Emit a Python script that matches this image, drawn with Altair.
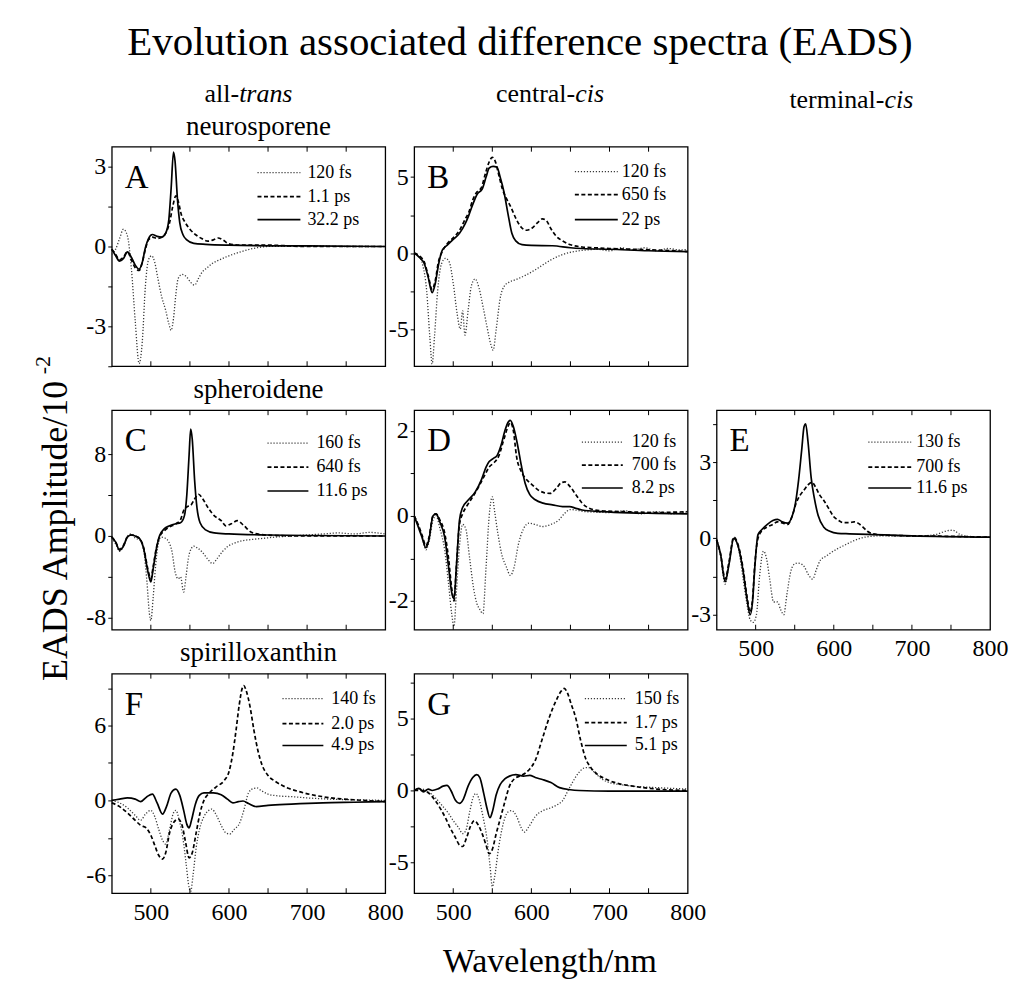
import altair as alt
import pandas as pd

SERIF = "Liberation Serif"
W, H = 274, 220

# ---------------- data: [wavelength nm, EADS amplitude /1e-2] ----------------
# A  neurosporene all-trans
A_120fs = [[450, -0.3], [455, -0.1], [460, 0.3], [465, 0.65], [470, 0.4], [475, -0.8], [480, -2.8], [485, -4.4],
           [489, -3.6], [493, -1.5], [497, -0.5], [501, -0.35], [505, -0.6], [509, -1.2], [514, -1.9], [519, -2.4],
           [523, -2.9], [526, -3.15], [529, -2.7], [532, -1.8], [535, -1.2], [540, -1.05], [546, -1.15], [551, -1.35],
           [556, -1.45], [561, -1.2], [566, -0.95], [572, -0.8], [578, -0.65], [588, -0.5], [600, -0.35], [615, -0.2],
           [630, -0.08], [650, 0.0], [700, 0.02], [750, 0.0], [800, 0.0]]
A_1p1ps = [[450, -0.1], [455, -0.3], [460, -0.5], [465, -0.4], [470, -0.2], [475, -0.5], [480, -0.8], [485, -0.9],
           [489, -0.6], [493, -0.1], [497, 0.25], [502, 0.35], [508, 0.3], [514, 0.35], [519, 0.5], [524, 0.9],
           [528, 1.5], [532, 1.9], [535, 1.7], [539, 1.2], [544, 0.9], [550, 0.65], [557, 0.45], [565, 0.3],
           [573, 0.2], [580, 0.25], [586, 0.32], [592, 0.25], [600, 0.1], [615, 0.05], [650, 0.05], [700, 0.0], [800, 0.0]]
A_32ps = [[450, -0.1], [455, -0.35], [460, -0.55], [465, -0.45], [470, -0.2], [475, -0.4], [480, -0.7], [485, -0.85],
          [489, -0.6], [493, -0.05], [497, 0.3], [502, 0.45], [508, 0.38], [514, 0.35], [519, 0.5], [523, 1.0],
          [526, 2.2], [529, 3.55], [531, 3.2], [534, 1.8], [537, 0.9], [541, 0.45], [546, 0.25], [555, 0.12],
          [570, 0.08], [600, 0.05], [700, 0.02], [800, 0.0]]

# B  neurosporene central-cis
B_120fs = [[450, 0.0], [456, -0.2], [461, -0.8], [466, -2.5], [470, -5.5], [473, -7.3], [476, -5.5], [480, -2.5],
           [485, -0.7], [490, -0.35], [495, -0.6], [500, -2.0], [505, -4.0], [509, -5.0], [512, -3.8], [515, -5.4],
           [519, -3.8], [523, -2.2], [528, -1.7], [533, -2.3], [538, -3.5], [543, -4.8], [548, -6.0], [551, -6.4],
           [555, -5.0], [560, -3.0], [565, -2.2], [572, -1.9], [580, -1.75], [593, -1.45], [605, -1.1], [614, -0.8],
           [625, -0.45], [640, -0.1], [655, 0.1], [670, 0.2], [685, 0.25], [700, 0.15], [715, 0.35], [730, 0.2],
           [745, 0.35], [760, 0.15], [775, 0.3], [790, 0.2], [800, 0.25]]
B_650fs = [[450, 0.0], [457, -0.2], [463, -0.6], [468, -1.5], [473, -2.4], [477, -1.8], [481, -0.6], [486, 0.1],
           [492, 0.6], [500, 1.0], [508, 1.5], [515, 2.2], [520, 2.7], [525, 3.5], [530, 4.0], [536, 4.3], [541, 5.2],
           [546, 6.0], [550, 6.3], [554, 6.0], [558, 5.2], [563, 4.2], [568, 3.6], [574, 3.0], [580, 2.3], [587, 1.7],
           [594, 1.5], [601, 1.65], [608, 2.0], [614, 2.25], [619, 2.15], [625, 1.6], [632, 1.1], [640, 0.8],
           [650, 0.55], [665, 0.4], [680, 0.35], [700, 0.3], [730, 0.25], [760, 0.2], [800, 0.1]]
B_22ps = [[450, 0.0], [457, -0.3], [463, -0.7], [468, -1.6], [473, -2.6], [477, -2.0], [481, -0.8], [486, 0.2],
          [492, 0.5], [500, 0.9], [508, 1.3], [515, 1.9], [520, 2.5], [525, 3.2], [531, 3.9], [537, 4.2], [542, 5.0],
          [546, 5.6], [551, 5.7], [556, 5.65], [560, 5.0], [565, 4.0], [570, 2.6], [575, 1.3], [580, 0.8], [588, 0.55],
          [600, 0.5], [627, 0.48], [650, 0.35], [665, 0.3], [700, 0.25], [750, 0.15], [800, 0.1]]

# C  spheroidene all-trans
C_160fs = [[450, -0.2], [455, -0.8], [460, -1.5], [465, -1.0], [470, 0.0], [475, 0.2], [480, -0.2], [486, -0.4],
           [491, -1.5], [495, -4.5], [498, -7.5], [500, -8.3], [503, -6.0], [506, -3.0], [509, -1.0], [513, -0.1],
           [518, -0.2], [523, -0.6], [527, -1.5], [531, -3.5], [535, -4.2], [538, -4.0], [542, -5.5], [545, -4.0],
           [548, -2.2], [552, -1.2], [555, -1.0], [560, -1.2], [566, -1.6], [572, -2.2], [579, -2.7], [585, -2.2],
           [592, -1.5], [599, -1.0], [607, -0.7], [615, -0.5], [628, -0.35], [641, -0.25], [660, -0.1], [680, 0.0],
           [700, 0.1], [720, 0.2], [740, 0.3], [760, 0.2], [780, 0.35], [800, 0.2]]
C_640fs = [[450, -0.1], [455, -0.6], [460, -1.3], [465, -0.9], [470, -0.1], [475, 0.1], [480, 0.0], [486, -0.3],
           [491, -1.2], [496, -3.2], [500, -4.2], [503, -3.0], [507, -1.2], [511, -0.1], [517, 0.5], [524, 0.9],
           [532, 1.2], [538, 1.6], [542, 2.5], [547, 2.9], [551, 3.0], [555, 3.5], [561, 4.1], [566, 3.7], [573, 2.8],
           [581, 2.0], [590, 1.5], [596, 1.0], [603, 1.2], [611, 1.5], [618, 1.1], [628, 0.4], [640, 0.15],
           [660, 0.05], [700, 0.0], [800, 0.0]]
C_11ps = [[450, -0.1], [455, -0.6], [460, -1.4], [465, -1.0], [470, -0.1], [475, 0.1], [480, 0.0], [486, -0.3],
          [491, -1.3], [496, -3.4], [500, -4.5], [503, -3.2], [507, -1.3], [511, 0.0], [517, 0.7], [524, 1.0],
          [532, 1.2], [538, 1.3], [543, 2.0], [546, 4.0], [549, 8.0], [551, 10.5], [553, 9.5], [556, 5.5],
          [559, 2.8], [563, 1.3], [570, 0.6], [581, 0.3], [600, 0.2], [650, 0.1], [700, 0.05], [800, 0.0]]

# D  spheroidene central-cis
D_120fs = [[450, 0.0], [455, -0.2], [460, -0.5], [465, -0.8], [469, -0.6], [474, -0.1], [478, 0.0], [483, -0.3],
           [489, -0.8], [494, -1.6], [498, -2.3], [501, -2.6], [504, -1.8], [508, -0.7], [512, -0.2], [516, -0.3],
           [521, -1.0], [526, -1.7], [530, -2.05], [534, -2.2], [538, -2.3], [542, -1.2], [546, 0.0], [550, 0.45],
           [553, 0.1], [557, -0.4], [562, -0.9], [568, -1.2], [573, -1.4], [578, -1.2], [583, -0.7], [590, -0.3],
           [597, -0.17], [605, -0.2], [614, -0.25], [625, -0.2], [635, -0.1], [642, 0.05], [650, 0.15], [670, 0.1],
           [700, 0.08], [720, 0.12], [740, 0.05], [760, 0.1], [780, 0.05], [800, 0.1]]
D_700fs = [[450, 0.0], [455, -0.2], [460, -0.45], [465, -0.7], [469, -0.5], [474, 0.0], [478, 0.05], [483, -0.1],
           [489, -0.4], [494, -1.0], [498, -1.7], [501, -2.0], [504, -1.2], [508, -0.2], [512, 0.05], [518, 0.25],
           [525, 0.45], [533, 0.7], [540, 0.95], [546, 1.15], [552, 1.25], [558, 1.4], [564, 1.75], [569, 2.05],
           [573, 2.2], [577, 2.0], [581, 1.4], [587, 1.05], [594, 0.85], [600, 0.75], [608, 0.62], [616, 0.55],
           [624, 0.53], [632, 0.65], [638, 0.78], [643, 0.8], [649, 0.7], [657, 0.5], [665, 0.3], [674, 0.18],
           [690, 0.12], [720, 0.1], [760, 0.08], [800, 0.1]]
D_8ps = [[450, 0.0], [455, -0.25], [460, -0.5], [465, -0.75], [469, -0.55], [474, 0.0], [478, 0.05], [483, -0.15],
         [489, -0.5], [494, -1.2], [498, -1.8], [501, -1.95], [504, -1.2], [508, -0.1], [512, 0.2], [518, 0.35],
         [528, 0.56], [536, 0.85], [542, 1.15], [546, 1.28], [551, 1.35], [556, 1.42], [561, 1.65], [566, 2.0],
         [570, 2.2], [573, 2.25], [577, 2.1], [582, 1.7], [587, 1.2], [592, 0.77], [598, 0.5], [605, 0.38],
         [615, 0.3], [627, 0.26], [640, 0.22], [649, 0.22], [657, 0.18], [665, 0.14], [690, 0.1], [725, 0.07],
         [760, 0.06], [800, 0.05]]

# E  spheroidene terminal-cis
E_130fs = [[450, -0.05], [455, -0.7], [461, -1.8], [466, -1.0], [472, 0.0], [478, -0.4], [484, -1.6], [489, -2.6],
           [493, -3.2], [497, -3.3], [501, -3.0], [505, -1.5], [510, -0.5], [514, -0.8], [518, -1.6], [523, -2.5],
           [528, -2.5], [532, -2.8], [536, -3.0], [540, -2.2], [545, -1.3], [550, -1.0], [554, -0.97], [558, -1.0],
           [562, -1.1], [567, -1.4], [573, -1.6], [578, -1.2], [583, -0.85], [590, -0.7], [597, -0.55], [605, -0.4],
           [615, -0.25], [625, -0.1], [640, 0.05], [660, 0.1], [700, 0.08], [730, 0.15], [745, 0.3], [752, 0.32],
           [762, 0.15], [780, 0.05], [800, 0.05]]
E_700fs = [[450, -0.05], [455, -0.6], [461, -1.6], [466, -0.9], [472, 0.05], [478, -0.3], [484, -1.2], [489, -2.3],
           [493, -2.9], [496, -2.4], [499, -1.0], [503, 0.0], [508, 0.3], [515, 0.45], [522, 0.55], [528, 0.65],
           [535, 0.6], [541, 0.55], [547, 0.9], [552, 1.4], [557, 1.7], [562, 1.9], [567, 2.1], [572, 2.2], [577, 2.0],
           [582, 1.7], [587, 1.5], [594, 1.15], [600, 0.85], [605, 0.73], [612, 0.62], [620, 0.62], [626, 0.65],
           [632, 0.58], [637, 0.45], [643, 0.28], [650, 0.18], [670, 0.12], [700, 0.1], [750, 0.08], [800, 0.05]]
E_11ps = [[450, -0.05], [455, -0.6], [461, -1.7], [466, -1.0], [472, 0.0], [478, -0.35], [484, -1.3], [489, -2.4],
          [493, -3.0], [496, -2.5], [499, -1.1], [503, 0.15], [508, 0.35], [515, 0.55], [522, 0.7], [528, 0.75],
          [534, 0.65], [541, 0.6], [547, 0.9], [551, 1.4], [555, 2.3], [559, 3.5], [562, 4.4], [564, 4.5], [567, 3.8],
          [571, 2.4], [575, 1.6], [580, 0.9], [587, 0.45], [595, 0.28], [605, 0.2], [620, 0.18], [650, 0.15],
          [700, 0.1], [800, 0.05]]

# F  spirilloxanthin all-trans
F_140fs = [[450, 0.0], [460, -0.2], [470, -0.6], [480, -1.2], [487, -1.6], [493, -1.1], [500, -0.8], [505, -1.3],
           [510, -2.3], [515, -3.2], [519, -3.5], [524, -2.3], [529, -1.0], [532, -0.8], [536, -1.5], [541, -3.0],
           [545, -5.0], [549, -7.0], [551, -7.3], [554, -6.0], [558, -3.8], [562, -2.4], [568, -1.3], [574, -0.8],
           [578, -0.7], [584, -1.2], [590, -2.0], [596, -2.6], [601, -2.7], [607, -2.3], [613, -1.9], [619, -0.8],
           [625, 0.6], [631, 0.95], [636, 1.0], [641, 0.8], [650, 0.5], [665, 0.35], [680, 0.3], [700, 0.2],
           [730, 0.1], [760, 0.05], [800, 0.0]]
F_2ps = [[450, -0.2], [460, -0.5], [470, -1.0], [480, -1.6], [487, -2.0], [494, -2.2], [500, -2.8], [505, -3.6],
         [510, -4.4], [515, -4.7], [519, -4.2], [524, -2.6], [530, -1.7], [535, -1.5], [540, -2.0], [544, -3.2],
         [549, -4.6], [553, -4.2], [558, -2.6], [563, -1.0], [568, 0.0], [575, 0.6], [584, 1.1], [594, 1.6],
         [600, 2.3], [605, 3.8], [609, 5.6], [613, 7.6], [617, 9.0], [619, 9.2], [622, 8.8], [627, 7.5], [632, 5.6],
         [637, 4.0], [642, 2.9], [650, 2.0], [660, 1.5], [675, 1.0], [690, 0.7], [710, 0.4], [730, 0.2], [760, 0.05],
         [800, -0.1]]
F_4p9ps = [[450, 0.0], [460, 0.1], [470, 0.2], [480, 0.1], [487, -0.1], [495, 0.3], [502, 0.5], [508, -0.2],
           [515, -1.1], [520, -0.5], [526, 0.6], [532, 0.9], [537, 0.4], [542, -0.8], [546, -1.9], [549, -2.2],
           [552, -1.6], [557, -0.3], [562, 0.4], [568, 0.6], [580, 0.6], [590, 0.45], [598, 0.1], [605, -0.2],
           [612, -0.1], [618, -0.05], [625, -0.25], [635, -0.5], [650, -0.4], [680, -0.3], [720, -0.2], [760, -0.15],
           [800, -0.1]]

# G  spirilloxanthin central-cis
G_150fs = [[450, 0.0], [460, 0.1], [468, -0.1], [477, -0.5], [485, -1.0], [494, -1.6], [500, -2.1], [507, -2.6],
           [512, -3.0], [516, -2.8], [521, -1.5], [526, -0.4], [529, -0.2], [533, -0.6], [538, -1.8], [543, -3.3],
           [547, -5.2], [550, -6.7], [553, -6.0], [558, -4.0], [564, -2.3], [570, -1.5], [575, -1.4], [581, -1.8],
           [587, -2.6], [591, -2.9], [597, -2.5], [605, -1.8], [615, -1.4], [625, -1.2], [633, -1.0], [640, -0.7],
           [647, 0.0], [653, 0.6], [660, 1.2], [667, 1.55], [673, 1.6], [680, 1.3], [690, 0.8], [700, 0.55],
           [715, 0.4], [730, 0.3], [760, 0.2], [800, 0.1]]
G_1p7ps = [[450, 0.0], [460, 0.0], [469, -0.2], [477, -0.7], [484, -1.3], [490, -1.9], [496, -2.6], [503, -3.3],
           [508, -3.8], [512, -3.9], [517, -3.3], [522, -2.5], [527, -2.1], [532, -2.4], [537, -3.0], [542, -3.8],
           [546, -4.4], [550, -4.1], [555, -3.0], [560, -2.0], [566, -0.8], [572, 0.3], [578, 0.8], [585, 1.0],
           [592, 1.2], [598, 1.5], [605, 2.1], [614, 3.6], [623, 5.1], [632, 6.3], [638, 6.9], [642, 7.1], [646, 6.8],
           [651, 6.0], [657, 5.0], [663, 3.5], [669, 2.3], [676, 1.6], [685, 1.1], [695, 0.8], [710, 0.5], [730, 0.3],
           [760, 0.1], [800, 0.0]]
G_5p1ps = [[450, 0.0], [456, 0.15], [462, -0.1], [468, 0.1], [473, 0.0], [480, 0.1], [487, 0.3], [492, 0.35],
           [497, 0.0], [503, -0.7], [508, -0.9], [513, -0.6], [519, 0.3], [525, 0.9], [530, 1.1], [534, 0.9],
           [539, -0.2], [543, -1.2], [547, -1.9], [550, -1.5], [555, -0.3], [560, 0.4], [566, 0.8], [572, 1.0],
           [580, 1.1], [590, 1.0], [598, 1.05], [605, 0.9], [615, 0.75], [625, 0.55], [636, 0.2], [650, 0.05],
           [661, 0.0], [700, -0.05], [750, -0.05], [800, -0.05]]

X_LABELS = [500, 600, 700, 800]
X_TICKS = [500, 550, 600, 650, 700, 750]

LINE_STYLES = [
    dict(color="#3a3a3a", strokeWidth=1.3, strokeDash=[1.2, 1.8]),
    dict(color="black", strokeWidth=1.7, strokeDash=[4, 2.5]),
    dict(color="black", strokeWidth=1.7),
]


def txt(s, x, y, size, align="center", baseline="alphabetic", angle=None, style=None):
    kw = dict(font=SERIF, fontSize=size, align=align, baseline=baseline, color="black")
    if angle is not None:
        kw["angle"] = angle
    if style:
        kw["fontStyle"] = style
    return alt.Chart(pd.DataFrame({"s": [s]})).mark_text(**kw).encode(
        text="s:N", x=alt.value(x), y=alt.value(y))


def panel(letter, series, labels, ydom, yticks, major, bottom, leg_rows, leg_line, leg_text, extra=None):
    xs = alt.Scale(domain=[450, 800], nice=False, zero=False)
    ys = alt.Scale(domain=ydom, nice=False, zero=False)
    if bottom:
        xaxis = alt.Axis(values=X_LABELS, ticks=False, domain=False, grid=False, labelFont=SERIF,
                         labelFontSize=24, labelPadding=7, labelColor="black", labelFlush=False,
                         labelOverlap=False, title=None)
    else:
        xaxis = None
    yaxis = alt.Axis(values=yticks, labelExpr=f"datum.value % {major} == 0 ? toString(datum.value) : ''",
                     tickSize=4, tickColor="black", tickWidth=1, domain=False, grid=False,
                     labelFont=SERIF, labelFontSize=24, labelColor="black", labelPadding=2,
                     labelOverlap=False, title=None)
    layers = []
    for pairs, st in zip(series, LINE_STYLES):
        df = pd.DataFrame(pairs, columns=["wl", "amp"])
        layers.append(alt.Chart(df).mark_line(interpolate="monotone", strokeCap="butt", **st).encode(
            x=alt.X("wl:Q", scale=xs, axis=xaxis, title=None),
            y=alt.Y("amp:Q", scale=ys, axis=yaxis, title=None)))
    tdf = pd.DataFrame({"t": X_TICKS})
    layers.append(alt.Chart(tdf).mark_rule(color="black", strokeWidth=1).encode(
        x=alt.X("t:Q", scale=xs, axis=xaxis, title=None), y=alt.value(H - 5), y2=alt.value(H)))
    layers.append(alt.Chart(tdf).mark_rule(color="black", strokeWidth=1).encode(
        x=alt.X("t:Q", scale=xs, axis=xaxis, title=None), y=alt.value(0), y2=alt.value(5)))
    layers.append(txt(letter, 13, 41, 33, align="left"))
    for i, (lab, st) in enumerate(zip(labels, LINE_STYLES)):
        yr = leg_rows[i]
        layers.append(alt.Chart(pd.DataFrame({"s": [lab]})).mark_rule(strokeCap="butt", **st).encode(
            x=alt.value(W + leg_line[0]), x2=alt.value(W + leg_line[1]), y=alt.value(yr)))
        layers.append(txt(lab, W + leg_text, yr, 18, align="left", baseline="middle"))
    if extra:
        layers.extend(extra)
    return alt.layer(*layers).properties(
        width=W, height=H, view=alt.ViewBackground(stroke="black", strokeWidth=1.3))


def blank():
    return alt.Chart(pd.DataFrame({"s": [0]})).mark_point(opacity=0).encode(
        x=alt.value(0), y=alt.value(0)).properties(
        width=W, height=H, view=alt.ViewBackground(strokeOpacity=0, fillOpacity=0))


# global texts, positioned relative to panel A's plot area
glob = [
    # invisible pins fixing the page frame (0,0)-(1013,990)
    alt.Chart(pd.DataFrame({"s": [0]})).mark_rule(color="white", opacity=0).encode(
        x=alt.value(-111), x2=alt.value(902), y=alt.value(-145)),
    alt.Chart(pd.DataFrame({"s": [0]})).mark_rule(color="white", opacity=0).encode(
        x=alt.value(-111), y=alt.value(-145), y2=alt.value(845)),
    txt("Evolution associated difference spectra (EADS)", 409, -92, 41),
    txt("all-", 127.6, -45, 26, align="right"),
    txt("trans", 127.6, -45, 26, align="left", style="italic"),
    txt("central-", 464.3, -45, 26, align="right"),
    txt("cis", 464.3, -45, 26, align="left", style="italic"),
    txt("terminal-", 774.2, -39, 26, align="right"),
    txt("cis", 774.2, -39, 26, align="left", style="italic"),
    txt("neurosporene", 147, -12, 27),
    txt("spheroidene", 147, 252, 27),
    txt("spirilloxanthin", 147, 515, 27),
    txt("EADS Amplitude/10", -56, 385, 36, baseline="middle", angle=270),
    txt("-2", -69, 228, 22, align="left", baseline="middle", angle=270),
    txt("Wavelength/nm", 439, 827, 34),
]

pA = panel("A", [A_120fs, A_1p1ps, A_32ps], ["120 fs", "1.1 ps", "32.2 ps"], [-4.5, 3.75],
           [-4.5, -3, -1.5, 0, 1.5, 3], 3, False, [26, 50, 73], (-128, -85), -78, extra=glob)
pB = panel("B", [B_120fs, B_650fs, B_22ps], ["120 fs", "650 fs", "22 ps"], [-7.45, 7.0],
           [-5, -2.5, 0, 2.5, 5], 5, False, [25, 48, 73], (-113, -70), -66)
pC = panel("C", [C_160fs, C_640fs, C_11ps], ["160 fs", "640 fs", "11.6 ps"], [-9.2, 12.35],
           [-8, -4, 0, 4, 8], 8, False, [33, 57, 81], (-118, -77), -69)
pD = panel("D", [D_120fs, D_700fs, D_8ps], ["120 fs", "700 fs", "8.2 ps"], [-2.68, 2.49],
           [-2, -1, 0, 1, 2], 2, False, [32, 55, 78], (-106, -65), -56)
pE = panel("E", [E_130fs, E_700fs, E_11ps], ["130 fs", "700 fs", "11.6 ps"], [-3.59, 5.04],
           [-3, -1.5, 0, 1.5, 3, 4.5], 3, True, [32, 57, 78], (-122, -79), -74)
pF = panel("F", [F_140fs, F_2ps, F_4p9ps], ["140 fs", "2.0 ps", "4.9 ps"], [-7.44, 10.16],
           [-6, -3, 0, 3, 6, 9], 6, True, [25, 50, 72], (-103, -62), -54)
pG = panel("G", [G_150fs, G_1p7ps, G_5p1ps], ["150 fs", "1.7 ps", "5.1 ps"], [-7.15, 8.13],
           [-5, -2.5, 0, 2.5, 5, 7.5], 5, True, [25, 49, 72], (-103, -61), -53)

chart = alt.concat(pA, pB, blank(), pC, pD, pE, pF, pG, blank(), columns=3,
                   spacing={"row": 44, "column": 29}, bounds="flush").properties(
    padding={"left": 0, "top": 0, "right": 0, "bottom": 0}
).configure(background="white").configure_view(stroke="black", strokeWidth=1.3)

chart.save("out.html", embed_options={"renderer": "svg", "actions": False})
